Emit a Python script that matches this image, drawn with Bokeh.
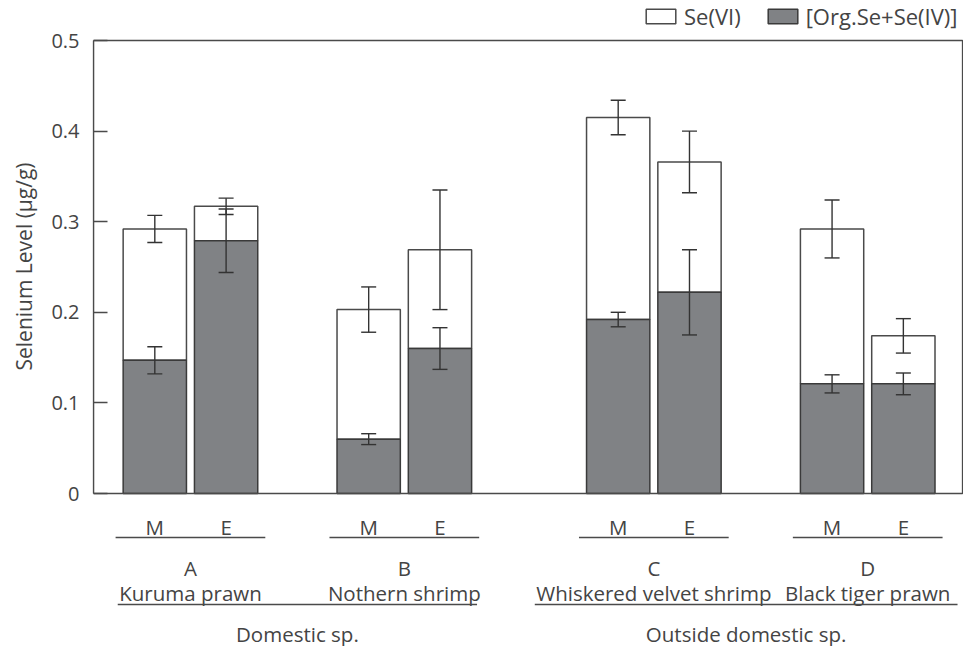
from bokeh.plotting import figure
from bokeh.models import (ColumnDataSource, Range1d, FixedTicker, CustomJSTickFormatter,
                          Whisker, TeeHead, Legend, LegendItem, Label, Arrow, BoxAnnotation, Title)
from bokeh.embed import file_html
from bokeh.resources import INLINE

# ---------------- data ----------------
regions = ["Domestic sp.", "Outside domestic sp."]
species_region = [0, 0, 1, 1]
species_letters = ["A", "B", "C", "D"]
species_names = ["Kuruma prawn", "Nothern shrimp", "Whiskered velvet shrimp", "Black tiger prawn"]
parts = ["M", "E"]

# per bar, order: A-M, A-E, B-M, B-E, C-M, C-E, D-M, D-E
total_se = [0.292, 0.317, 0.203, 0.269, 0.415, 0.366, 0.292, 0.174]
total_sd = [0.015, 0.009, 0.025, 0.066, 0.019, 0.034, 0.032, 0.019]
org_se = [0.147, 0.279, 0.060, 0.160, 0.192, 0.222, 0.121, 0.121]
org_sd = [0.015, 0.035, 0.006, 0.023, 0.008, 0.047, 0.010, 0.012]

series_labels = ["Se(VI)", "[Org.Se+Se(IV)]"]
y_ticks = [0, 0.1, 0.2, 0.3, 0.4, 0.5]
y_label = "Selenium Level (μg/g)"

# ---------------- style / layout constants ----------------
FONT = "Open Sans"
TXT = "#444444"
LINE = "#4a4a4a"
DARK = "#808285"
FS = "20.5px"
W, H = 963, 646
LEFT = 93            # frame left edge (px)
AX_TOP, AX_BOT = 40, 493   # pixel rows of 0.5 and 0
PX = (AX_BOT - AX_TOP) / (y_ticks[-1] - y_ticks[0])  # px per data unit
SLOT = 71.29         # px per bar slot
X0 = 0.14            # data x at frame left

# positions of bars computed from the grouping
xs = []
species_start = []
pos = 1.0
for i in range(len(species_letters)):
    if i > 0:
        pos += 3.5 if species_region[i] != species_region[i - 1] else 3.0
    species_start.append(pos)
    for j in range(len(parts)):
        xs.append(pos + j)

bar_w = 0.888

src = ColumnDataSource(dict(
    x=xs, total=total_se, org=org_se,
    t_up=[t + s for t, s in zip(total_se, total_sd)],
    t_lo=[t - s for t, s in zip(total_se, total_sd)],
    o_up=[o + s for o, s in zip(org_se, org_sd)],
    o_lo=[o - s for o, s in zip(org_se, org_sd)],
))

y_start = y_ticks[0] - (H - AX_BOT) / PX
y_end = y_ticks[-1] + AX_TOP / PX
x_end = X0 + (W - LEFT) / SLOT
box_right = X0 + (962 - LEFT) / SLOT

p = figure(width=W, height=H, output_backend="svg", toolbar_location=None,
           x_range=Range1d(X0, x_end), y_range=Range1d(y_start, y_end),
           min_border_left=LEFT, min_border_right=0, min_border_top=0, min_border_bottom=0)

p.xaxis.visible = False
p.xgrid.visible = False
p.ygrid.visible = False
p.outline_line_color = None
p.background_fill_color = "white"
p.border_fill_color = "white"

yax = p.yaxis[0]
yax.bounds = (y_ticks[0], y_ticks[-1])
yax.ticker = FixedTicker(ticks=y_ticks)
yax.formatter = CustomJSTickFormatter(code="return tick == 0 ? '0' : tick.toFixed(1);")
yax.major_tick_in = 14
yax.major_tick_out = 0
yax.minor_tick_in = 0
yax.minor_tick_out = 0
yax.axis_line_color = LINE
yax.axis_line_width = 1.3
yax.major_tick_line_color = LINE
yax.major_tick_line_width = 1.3
yax.major_label_standoff = 14
yax.major_label_text_font = FONT
yax.major_label_text_font_size = "20px"
yax.major_label_text_color = TXT

# y-axis title: starts 123 px above the frame bottom of the 0..0.5 box (frame extends below)
p.add_layout(Title(text=y_label, align="left", vertical_align="top",
                   offset=(H - AX_BOT) + 123,
                   text_font=FONT, text_font_size="21px", text_font_style="normal",
                   text_color=TXT, standoff=17), "left")

# plot box
p.add_layout(BoxAnnotation(left=X0, right=box_right, bottom=y_ticks[0], top=y_ticks[-1],
                           fill_alpha=0, line_alpha=1, line_color=LINE, line_width=1.3))

white_r = p.vbar(x="x", width=bar_w, bottom="org", top="total", source=src,
                 fill_color="white", line_color=LINE, line_width=1.5)
dark_r = p.vbar(x="x", width=bar_w, bottom=0, top="org", source=src,
                fill_color=DARK, line_color="#3a3a3a", line_width=1.5)

for up, lo in (("t_up", "t_lo"), ("o_up", "o_lo")):
    w = Whisker(source=src, base="x", upper=up, lower=lo, level="overlay",
                line_color="#333333", line_width=1.4,
                upper_head=TeeHead(size=15, line_color="#333333", line_width=1.4),
                lower_head=TeeHead(size=15, line_color="#333333", line_width=1.4))
    p.add_layout(w)

legend = Legend(items=[LegendItem(label=series_labels[0], renderers=[white_r]),
                       LegendItem(label=series_labels[1], renderers=[dark_r])],
                orientation="horizontal", location=(549, H - 31),
                glyph_width=37, glyph_height=18, label_standoff=5, spacing=23,
                padding=0, margin=0, border_line_color=None, background_fill_alpha=0,
                label_text_font=FONT, label_text_font_size="22px", label_text_color=TXT)
p.add_layout(legend, "center")


# ---------------- category labels below the axis ----------------
def ybelow(px):
    return y_ticks[0] - px / PX


def add_text(x, ypx, text):
    p.add_layout(Label(x=x, y=ybelow(ypx), text=text, text_align="center",
                       text_baseline="alphabetic", text_font=FONT,
                       text_font_size=FS, text_color=TXT))


def add_line(x0, x1, ypx, width=1.3):
    p.add_layout(Arrow(start=None, end=None, x_start=x0, x_end=x1,
                       y_start=ybelow(ypx), y_end=ybelow(ypx),
                       line_color=LINE, line_width=width))


for i, s0 in enumerate(species_start):
    for j, part in enumerate(parts):
        add_text(s0 + j, 33, part)
    add_line(s0 - 0.55, s0 + len(parts) - 1 + 0.55, 44)
    center = s0 + (len(parts) - 1) / 2
    add_text(center, 74, species_letters[i])
    add_text(center, 99, species_names[i])

region_pad = [(0.52, 0.52), (1.17, 0.76)]
for r, name in enumerate(regions):
    idx = [i for i in range(len(species_region)) if species_region[i] == r]
    first = species_start[idx[0]]
    last = species_start[idx[-1]] + len(parts) - 1
    add_line(first - region_pad[r][0], last + region_pad[r][1], 111)
    add_text((first - region_pad[r][0] + last + region_pad[r][1]) / 2, 140, name)

open("out.html", "w").write(file_html(p, INLINE))
